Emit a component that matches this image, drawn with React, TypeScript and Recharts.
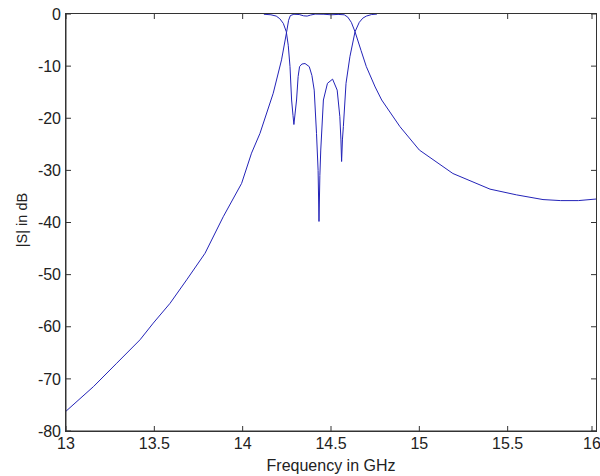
import React from 'react';
import { LineChart, Line, XAxis, YAxis } from 'recharts';

// transmission |S21| (dB) vs frequency (GHz)
const s21Freq = [
  13.0, 13.155, 13.287, 13.419, 13.494, 13.589, 13.683, 13.787, 13.89, 13.994,
  14.05, 14.098, 14.173, 14.22, 14.249, 14.26, 14.27, 14.29, 14.32, 14.345,
  14.365, 14.385, 14.41, 14.46, 14.5, 14.54, 14.575, 14.595, 14.615, 14.636,
  14.67, 14.7, 14.75, 14.787, 14.89, 15.0, 15.19, 15.4, 15.55, 15.7, 15.8, 15.9, 16.0,
];
const s21Db = [
  -76.2, -71.5, -67.0, -62.5, -59.3, -55.5, -51.0, -45.9, -38.9, -32.5,
  -26.7, -22.9, -15.2, -8.8, -3.4, -1.2, -0.3, -0.05, -0.1, -0.35,
  -0.4, -0.2, -0.02, -0.05, -0.15, -0.08, -0.15, -0.6, -1.6, -3.4,
  -7, -10.1, -14, -16.5, -21.6, -26.1, -30.6, -33.6, -34.7, -35.6, -35.8, -35.8, -35.5,
];

// reflection |S11| (dB) around the passband
const s11Freq = [
  14.12, 14.16, 14.19, 14.21, 14.23, 14.247, 14.258, 14.268, 14.277, 14.285,
  14.29, 14.297, 14.305, 14.314, 14.322, 14.335, 14.353, 14.377, 14.392, 14.405,
  14.418, 14.427, 14.432, 14.437, 14.442, 14.457, 14.48, 14.509, 14.535, 14.55,
  14.556, 14.56, 14.565, 14.57, 14.585, 14.607, 14.636, 14.66, 14.68, 14.7, 14.73, 14.76,
];
const s11Db = [
  -0.05, -0.15, -0.4, -0.9, -1.8, -3.4, -6, -10.1, -16.5, -19.5,
  -21.2, -19, -16.5, -12, -10.1, -9.6, -9.5, -10.1, -11.8, -14.6,
  -22.9, -30, -39.8, -31, -26.1, -16.5, -13.3, -12.5, -14.6, -19.7,
  -24, -28.3, -24, -21.6, -13.3, -8.2, -3.4, -1.6, -0.8, -0.4, -0.1, -0.02,
];

const xTicks = [13, 13.5, 14, 14.5, 15, 15.5, 16];
const yTicks = [-80, -70, -60, -50, -40, -30, -20, -10, 0];

const s21 = s21Freq.map((f, i) => ({ f, db: s21Db[i] }));
const s11 = s11Freq.map((f, i) => ({ f, db: s11Db[i] }));

const W = 600;
const H = 476;
const margin = { top: 14, right: 4, bottom: 0, left: 6 };
const plotW = W - margin.left - margin.right - 60;
const plotH = H - margin.top - margin.bottom - 45;

const font = '"Liberation Sans", Arial, sans-serif';
const lineColor = '#2323b8';
const axisColor = '#333';
const textColor = '#222';
const TICK = 5;

// matlab style: tick marks point into the plot, on all four sides
const BottomTick = ({ x, y, payload }: any) => (
  <g>
    <line x1={x} y1={y} x2={x} y2={y - TICK} stroke={axisColor} strokeWidth={1} />
    <line x1={x} y1={margin.top} x2={x} y2={margin.top + TICK} stroke={axisColor} strokeWidth={1} />
    <text x={x} y={y + 7} dy="0.71em" textAnchor="middle" fontSize={16} fill={textColor}>
      {payload.value}
    </text>
  </g>
);
const LeftTick = ({ x, y, payload }: any) => (
  <g>
    <line x1={x} y1={y} x2={x + TICK} y2={y} stroke={axisColor} strokeWidth={1} />
    <line x1={W - margin.right} y1={y} x2={W - margin.right - TICK} y2={y} stroke={axisColor} strokeWidth={1} />
    <text x={x - 5} y={y} dy="0.355em" textAnchor="end" fontSize={16} fill={textColor}>
      {payload.value}
    </text>
  </g>
);

export default function App() {
  return (
    <div style={{ position: 'absolute', left: 0, top: 0, width: W, height: H, background: '#fff', fontFamily: font, color: textColor }}>
      <LineChart width={W} height={H} margin={margin}>
        <XAxis
          dataKey="f"
          type="number"
          domain={[13, 16]}
          ticks={xTicks}
          height={45}
          tickSize={0}
          tickMargin={0}
          tickLine={false}
          stroke={axisColor}
          axisLine={{ stroke: axisColor, strokeWidth: 1 }}
          tick={BottomTick}
        />
        <YAxis
          type="number"
          domain={[-80, 0]}
          ticks={yTicks}
          width={60}
          tickSize={0}
          tickMargin={0}
          tickLine={false}
          stroke={axisColor}
          axisLine={{ stroke: axisColor, strokeWidth: 1 }}
          tick={LeftTick}
        />
        <Line data={s21} dataKey="db" type="linear" stroke={lineColor} strokeWidth={1} dot={false} isAnimationActive={false} />
        <Line data={s11} dataKey="db" type="linear" stroke={lineColor} strokeWidth={1} dot={false} isAnimationActive={false} />
      </LineChart>
      {/* axes box drawn over the plot, like matlab does */}
      <div
        style={{
          position: 'absolute',
          left: margin.left + 60 - 1,
          top: margin.top - 1,
          width: plotW,
          height: plotH,
          border: `1px solid ${axisColor}`,
          pointerEvents: 'none',
        }}
      />
      <div style={{ position: 'absolute', left: 66, top: 458, width: plotW, height: 16, lineHeight: '16px', fontSize: 16, textAlign: 'center' }}>
        Frequency in GHz
      </div>
      <div
        style={{
          position: 'absolute',
          left: 21.5 - 100,
          top: 220 - 8,
          width: 200,
          height: 16,
          lineHeight: '16px',
          fontSize: 14.5,
          textAlign: 'center',
          transform: 'rotate(-90deg)',
        }}
      >
        |S| in dB
      </div>
    </div>
  );
}
